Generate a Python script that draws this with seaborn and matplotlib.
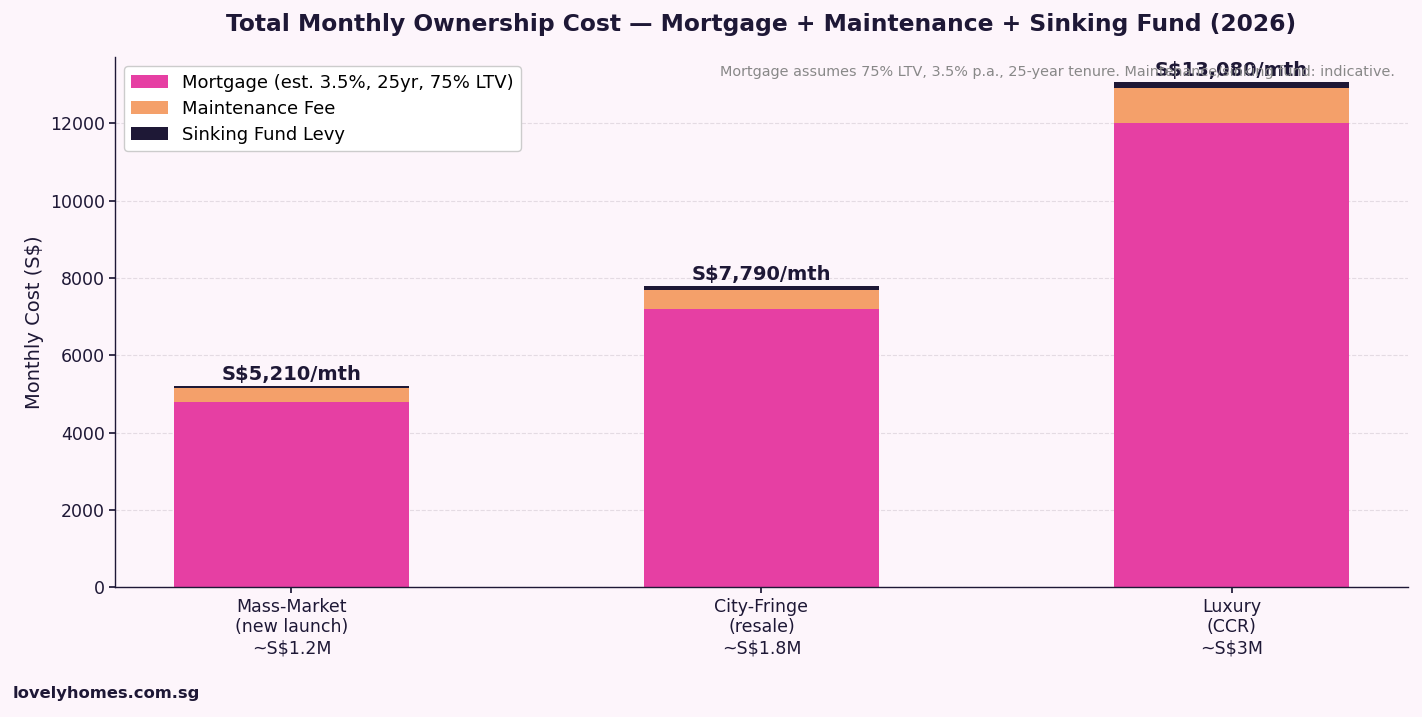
import matplotlib
matplotlib.use("Agg")
import matplotlib.pyplot as plt
import seaborn as sns
import numpy as np

sns.set_theme(style="white")
plt.rcParams['font.family'] = ['DejaVu Sans']

# segments
categories = ["Mass-Market\n(new launch)\n~S$1.2M", "City-Fringe\n(resale)\n~S$1.8M", "Luxury\n(CCR)\n~S$3M"]
mortgage = [4800, 7200, 12000]
maintenance = [360, 500, 900]
sinking = [50, 90, 180]
totals = [5210, 7790, 13080]

bg = "#fdf5fb"
c_mort = "#e63fa3"
c_maint = "#f4a06a"
c_sink = "#1e1836"

fig, ax = plt.subplots(figsize=(14.22, 7.17), dpi=100)
fig.patch.set_facecolor(bg)
ax.set_facecolor(bg)

bottom2 = np.array(mortgage) + np.array(maintenance)
sns.barplot(x=categories, y=mortgage, color=c_mort, width=0.5, ax=ax, linewidth=0,
            label="Mortgage (est. 3.5%, 25yr, 75% LTV)", saturation=1)
sns.barplot(x=categories, y=maintenance, bottom=mortgage, color=c_maint, width=0.5, ax=ax,
            linewidth=0, label="Maintenance Fee", saturation=1)
sns.barplot(x=categories, y=sinking, bottom=bottom2, color=c_sink, width=0.5, ax=ax,
            linewidth=0, label="Sinking Fund Levy", saturation=1)

for i, t in enumerate(totals):
    ax.text(i, t + 40, f"S${t:,}/mth", ha="center", va="bottom",
            fontsize=14, fontweight="bold", color=c_sink)

ax.set_xlim(-0.375, 2.375)
ax.set_ylim(0, 13705)
ax.set_yticks(range(0, 12001, 2000))
ax.yaxis.grid(True, linestyle="--", color="#e4dbe3", linewidth=0.8)
ax.set_axisbelow(True)
ax.tick_params(axis="both", labelsize=12.5, colors="#1e1836", length=4, left=True, bottom=True)
for s in ["top", "right"]:
    ax.spines[s].set_visible(False)
for s in ["left", "bottom"]:
    ax.spines[s].set_color("#1e1836")
    ax.spines[s].set_linewidth(1)

ax.set_ylabel("Monthly Cost (S$)", fontsize=14, color="#1e1836")
ax.set_title("Total Monthly Ownership Cost \u2014 Mortgage + Maintenance + Sinking Fund (2026)",
             fontsize=16.8, fontweight="bold", color="#1e1836", pad=19)

ax.text(0.99, 0.985, "Mortgage assumes 75% LTV, 3.5% p.a., 25-year tenure. Maintenance/sinking fund: indicative.",
        transform=ax.transAxes, ha="right", va="top", fontsize=10.4, color="#888888")

leg = ax.legend(loc="upper left", fontsize=13, frameon=True, facecolor="white",
                edgecolor="#cccccc", borderaxespad=0.5, labelspacing=0.45)
leg.get_frame().set_alpha(1)
for txt in leg.get_texts():
    txt.set_color("black")

fig.text(0.009, 0.026, "lovelyhomes.com.sg", fontsize=11.8, fontweight="bold", color="#1e1836")

fig.subplots_adjust(left=0.081, right=0.99, top=0.92, bottom=0.181)
fig.savefig("out.png", dpi=100, facecolor=bg)
